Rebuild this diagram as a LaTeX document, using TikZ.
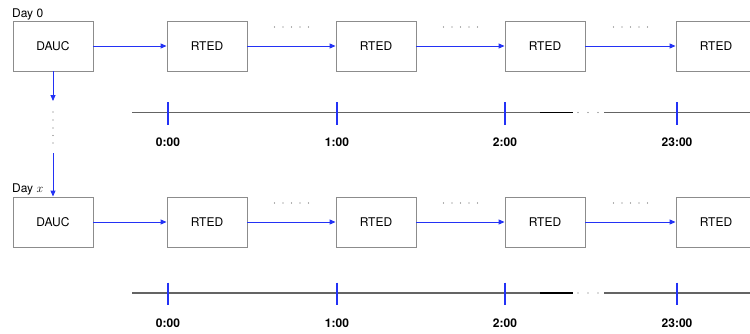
\documentclass[tikz,border=0pt]{standalone}
\usepackage{fontspec}
\setmainfont{TeX Gyre Heros}
\usetikzlibrary{arrows.meta,calc}
\definecolor{flowblue}{RGB}{35,50,245}
\definecolor{boxgray}{RGB}{140,140,140}
\definecolor{axisgray}{RGB}{100,100,100}
\begin{document}
\begin{tikzpicture}[x=1pt,y=-1pt,
  font=\fontsize{12}{14}\selectfont,
  unit/.style={draw=boxgray, fill=white, line width=0.9pt, minimum width=80pt, minimum height=50pt, inner sep=0pt},
  flow/.style={draw=flowblue, line width=0.9pt, -{Triangle[length=6pt,width=5pt]}},
  hourtick/.style={draw=flowblue, line width=1.1pt},
  axisline/.style={draw=axisgray, line width=1.1pt},
  axisbold/.style={draw=black, line width=1.6pt},
  hour/.style={font=\fontsize{12}{14}\selectfont\bfseries, anchor=base, inner sep=0pt},
  dotmark/.style={fill=axisgray, circle, inner sep=0pt, minimum size=1.4pt}]

\fill[white] (0,0) rectangle (750,333);
\useasboundingbox (0,0) rectangle (750,333);

% day labels
\node[anchor=base west, inner sep=0pt] (day0) at (12,17) {Day 0};
\node[anchor=base west, inner sep=0pt] (dayx) at (12,192) {Day $x$};

% one row per day: DAUC followed by the hourly RTED chain and its time axis
\foreach \r/\by/\ay/\ly in {0/46/112.5/146, 1/222/293/327}{
  \node[unit] (dauc\r) at (53,\by) {DAUC};
  \foreach \i/\x in {1/207,2/376,3/545,4/716}{
    \node[unit] (rted\r\i) at (\x,\by) {RTED};
  }
  \draw[flow] (dauc\r) -- (rted\r1);
  \foreach \a/\b in {1/2,2/3,3/4}{
    \draw[flow] (rted\r\a) -- (rted\r\b);
    \foreach \j in {-2,...,2}{
      \node[dotmark] at ($(rted\r\a.east)!0.5!(rted\r\b.west)+(8.5*\j,-19)$) {};
    }
  }
  % time axis
  \coordinate (axA\r) at (132,\ay);
  \coordinate (axB\r) at (540,\ay);
  \coordinate (axC\r) at (573,\ay);
  \coordinate (axD\r) at (604,\ay);
  \coordinate (axE\r) at (750,\ay);
  \draw[axisline] (axA\r) -- (axB\r);
  \draw[axisbold] (axB\r) -- (axC\r);
  \foreach \dx in {578,588,598}{
    \node[dotmark] at (\dx,\ay) {};
  }
  \draw[axisline] (axD\r) -- (axE\r);
  \foreach \k/\tx/\lab in {a/168/0:00, b/337/1:00, c/505/2:00, d/677/23:00}{
    \coordinate (tt\r\k) at (\tx,\ay-10.5);
    \coordinate (tb\r\k) at (\tx,\ay+12);
    \draw[hourtick] (tt\r\k) -- (tb\r\k);
    \node[hour] (lab\r\k) at (\tx,\ly) {\lab};
  }
}

% link from day 0 to day x
\coordinate (gapA) at (53,101);
\coordinate (gapB) at (53,153);
\draw[flow] (dauc0) -- (gapA);
\foreach \yy in {112,120,128,135.5,143}{
  \node[dotmark] at (53,\yy) {};
}
\draw[flow] (gapB) -- (dauc1);
\end{tikzpicture}
\end{document}
